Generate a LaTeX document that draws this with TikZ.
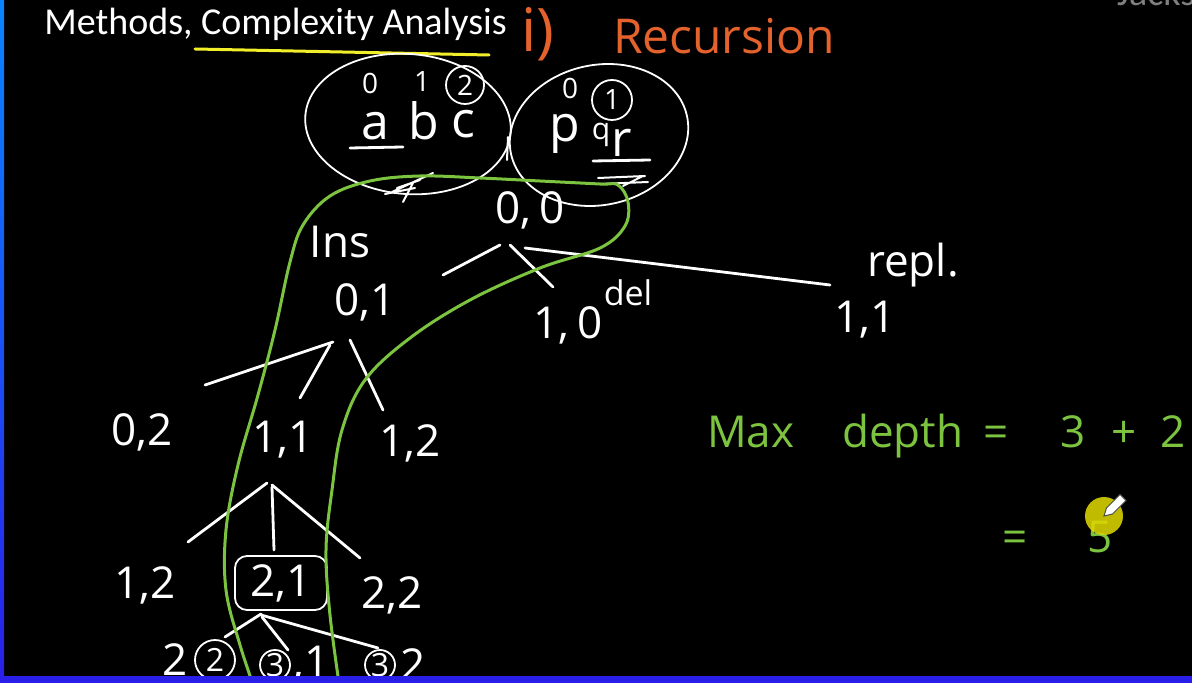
\documentclass[tikz,border=0pt]{standalone}
\usepackage{fontspec}
\setmainfont{Carlito}
\newfontfamily\hand{Open Sans}
\usepackage{xcolor}
\usepackage{tikz}
\usetikzlibrary{positioning, shapes.geometric}
\definecolor{boardblue}{HTML}{2A1FE8}
\definecolor{stripsky}{HTML}{0A84FF}
\definecolor{chalkgreen}{HTML}{7CC340}
\definecolor{chalkorange}{HTML}{E4622C}
\definecolor{markyellow}{HTML}{F2EE2A}
\definecolor{penyellow}{HTML}{DCD600}
\tikzset{
  chalk/.style={text=white, font=\hand\fontsize{22}{26}\selectfont, inner sep=1pt},
  digit/.style={chalk, font=\hand\fontsize{14}{16}\selectfont},
  letter/.style={chalk, font=\hand\fontsize{25}{30}\selectfont},
  ring/.style={draw=white, line width=0.9pt},
  stroke/.style={white, line width=1.4pt, line cap=round},
  greenloop/.style={chalkgreen, line width=1.5pt, line cap=round},
  greentext/.style={anchor=base west, text=chalkgreen, font=\hand\fontsize{22}{26}\selectfont}
}

\begin{document}
\begin{tikzpicture}[x=0.5pt, y=-0.5pt]
  \fill[black] (0,0) rectangle (1192,683);
  \clip (0,0) rectangle (1192,683);
  \shade[top color=stripsky, bottom color=boardblue] (0,0) rectangle (4,683);

  \node[anchor=base west, inner sep=0pt, text=white, font=\fontsize{19}{22}\selectfont] (title) at (44,35) {Methods, Complexity Analysis};
  \node[anchor=base west, text=gray, font=\fontsize{19}{22}\selectfont] (brand) at (1110,6) {Jackson};
  \draw[markyellow, line width=1.5pt, line cap=round] (195,49) -- (489,55);
  \node[anchor=base west, text=chalkorange, font=\hand\fontsize{30}{34}\selectfont] (part) at (514,52) {i)};
  \node[anchor=base west, text=chalkorange, font=\hand\fontsize{24}{28}\selectfont] (recur) at (606,54) {Recursion};

  \node[ring, ellipse, minimum width=103pt, minimum height=70pt, rotate=-5] (src) at (408,124) {};
  \node[ring, ellipse, minimum width=90pt, minimum height=70pt, rotate=12] (dst) at (599,135) {};

  \node[digit, anchor=base] (i0) at (370,94) {0};
  \node[digit, anchor=base] (i1) at (422,92) {1};
  \node[digit, ring, circle, minimum size=19pt, inner sep=0pt] (i2) at (465,85) {2};
  \node[letter, anchor=base] (ca) at (375,140) {a};
  \node[letter, anchor=base] (cb) at (424,140) {b};
  \node[letter, anchor=base] (cc) at (463,138) {c};
  \draw[stroke] ([shift={(-25,8)}]ca.base) -- ([shift={(28,7)}]ca.base);

  \node[digit, anchor=base] (j0) at (570,99) {0};
  \node[digit, ring, circle, minimum size=20pt, inner sep=0pt] (j1) at (612,100) {1};
  \node[letter, anchor=base] (cp) at (565,142) {p};
  \node[letter, anchor=base, inner sep=0pt, font=\hand\fontsize{15}{18}\selectfont] (cq) at (601,140) {q};
  \node[letter, anchor=base] (cr) at (622,157) {r};
  \draw[stroke] ([shift={(-29,4)}]cr.base) -- ([shift={(28,3)}]cr.base);

  \draw[stroke, line width=1pt] (392,192) -- (433,173) (397,188) -- (420,180) (403,202) -- (413,183) (385,194) -- (415,188);
  \draw[stroke, line width=1pt] (598,178) -- (645,176) (600,184) -- (648,182) (623,186) -- (643,176);
  \draw[stroke, line width=1pt] (508,137) -- (507,160);

  \node[chalk] (n00) at (530,210) {0,\,0};
  \node[chalk] (ins) at (340,242) {Ins};
  \node[chalk] (n01) at (365,302) {0,1};
  \node[chalk] (n10) at (568,325) {1,\,0};
  \node[chalk, font=\hand\fontsize{17}{20}\selectfont] (del) at (628,293) {del};
  \node[chalk] (repl) at (913,265) {repl.};
  \node[chalk] (n11r) at (865,320) {1,1};
  \node[chalk] (n02) at (142,432) {0,2};
  \node[chalk] (n11) at (283,440) {1,1};
  \node[chalk] (n12) at (410,443) {1,2};
  \node[chalk] (n12b) at (145,585) {1,2};
  \node[chalk, ring, rounded corners=6pt, minimum width=46pt, minimum height=27pt] (n21) at (281,583) {2,1};
  \node[chalk] (n22) at (392,595) {2,2};
  \node[chalk, ring, circle, minimum size=20pt, inner sep=0pt, font=\hand\fontsize{16}{19}\selectfont] (c22) at (215,660) {2};
  \node[chalk, left=2pt of c22] (t22) {2};
  \node[chalk, ring, circle, minimum size=15pt, inner sep=0pt, font=\hand\fontsize{16}{19}\selectfont] (c31) at (275,665) {3};
  \node[chalk, right=0pt of c31] (t31) {,1};
  \node[chalk, ring, circle, minimum size=15pt, inner sep=0pt, font=\hand\fontsize{16}{19}\selectfont] (c32) at (380,665) {3};
  \node[chalk, right=1pt of c32] (t32) {2};

  \draw[stroke] ([shift={(-30,35)}]n00.center) -- ([shift={(78,-27)}]n01.center);
  \draw[stroke] ([shift={(-20,35)}]n00.center) -- ([shift={(-15,-38)}]n10.center);
  \draw[stroke] ([shift={(-5,38)}]n00.center) -- ([shift={(-35,-35)}]n11r.center);
  \draw[stroke] ([shift={(-32,40)}]n01.center) -- ([shift={(63,-47)}]n02.center);
  \draw[stroke] ([shift={(-35,43)}]n01.center) -- ([shift={(17,-42)}]n11.center);
  \draw[stroke] ([shift={(-15,38)}]n01.center) -- ([shift={(-27,-33)}]n12.center);
  \draw[stroke] ([shift={(-16,43)}]n11.center) -- ([shift={(43,-43)}]n12b.center);
  \draw[stroke] ([shift={(-11,47)}]n11.center) -- ([shift={(-7,-33)}]n21.center);
  \draw[stroke] ([shift={(-11,45)}]n11.center) -- ([shift={(-32,-37)}]n22.center);
  \draw[stroke] ([shift={(-20,31)}]n21.center) -- ([shift={(10,-23)}]c22.center);
  \draw[stroke] ([shift={(-19,34)}]n21.center) -- ([shift={(13,-15)}]c31.center);
  \draw[stroke] ([shift={(-20,32)}]n21.center) -- ([shift={(-2,-17)}]c32.center);

  \draw[greenloop] plot[smooth, tension=0.6] coordinates {(255,690) (240,645) (226,590) (226,530)
    (238,465) (258,395) (275,330) (290,262) (303,225) (330,196) (370,181) (420,176) (480,178)
    (540,181) (600,184) (618,185) (628,202) (625,226) (600,248) (540,268) (470,300) (410,338)
    (365,380) (342,430) (332,490) (326,550) (330,615) (340,690)};

  \node[greentext] (maxd) at (700,447) {Max\hspace{24pt}depth\hspace{10pt}=\hspace{26pt}3\hspace{13pt}+\hspace{12pt}2};
  \node[greentext] (res) at (995,552) {=\hspace{30pt}5};
  \fill[penyellow, opacity=0.88] (1104,516) circle[radius=19];
  \draw[fill=white, draw=black!70, line width=0.5pt] (1104,516) -- (1112.5,514) -- (1126,500.5)
    -- (1120,494.5) -- (1106.5,508) -- cycle;

  \fill[boardblue] (0,676) rectangle (1192,683);
\end{tikzpicture}
\end{document}
